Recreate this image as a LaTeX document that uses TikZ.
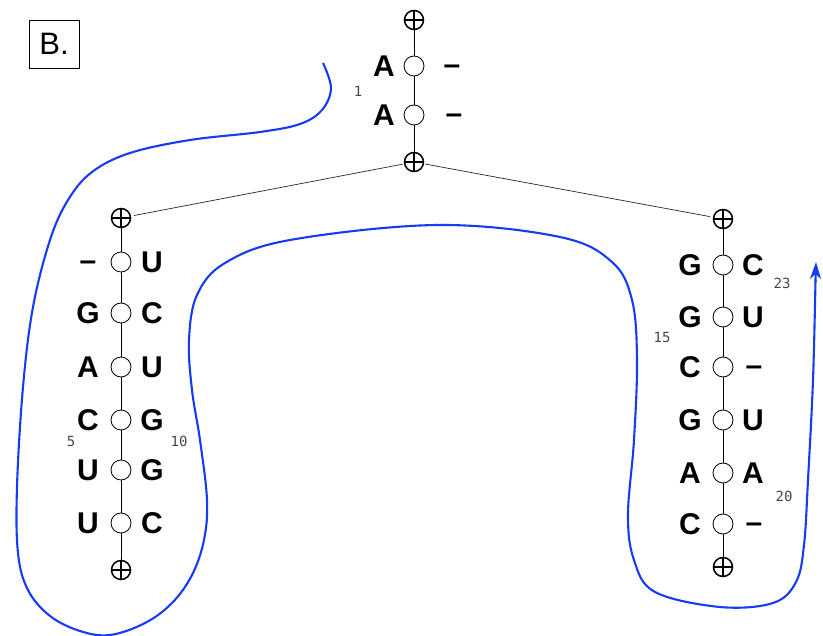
\documentclass[tikz,border=0pt]{standalone}
\usepackage{fontspec}
\setmainfont{Liberation Sans}
\newfontfamily\numfont{DejaVu Sans Mono}
\usetikzlibrary{arrows.meta}
\definecolor{curveblue}{RGB}{20,60,245}
\definecolor{numgray}{RGB}{70,70,70}
\tikzset{
 endpos/.style={circle,draw,line width=1.5pt,minimum size=19pt,inner sep=0pt,fill=white,
   path picture={\draw[line width=1.5pt] (path picture bounding box.north) -- (path picture bounding box.south)
     (path picture bounding box.west) -- (path picture bounding box.east);}},
 pairpos/.style={circle,draw,line width=0.8pt,minimum size=20pt,inner sep=0pt,fill=white},
 base/.style={font=\fontsize{30}{32}\selectfont\bfseries, inner sep=0pt, text height=21.5pt, text depth=0pt},
 gap/.style={base, yshift=2pt},
 idx/.style={font=\numfont\fontsize{14}{15}\selectfont, text=numgray, inner sep=0pt},
 stem/.style={line width=0.8pt},
 link/.style={line width=0.7pt, draw=black!85, shorten <=1pt, shorten >=3pt},
 fold/.style={draw=curveblue,line width=2.1pt}
}
\begin{document}
\begin{tikzpicture}[x=1pt,y=-1pt]
\useasboundingbox (0,0) rectangle (823,636);
% label box
\node[draw, line width=0.8pt, minimum width=50pt, minimum height=48pt, inner sep=0pt,
  font=\fontsize{31}{34}\selectfont] (lbl) at (54,44) {B.};

% top stem
\node[endpos] (t0) at (414,20) {};
\node[pairpos] (t1) at (414,66) {};
\node[pairpos] (t2) at (414,115) {};
\node[endpos] (t3) at (414,162) {};
\draw[stem] (t0) -- (t1) -- (t2) -- (t3);
\node[base] (ta1) at (384,66) {A};
\node[base] (ta2) at (384,115) {A};
\node[gap] (tb1) at (452,66) {--};
\node[gap] (tb2) at (454,115) {--};

% left stem
\node[endpos] (l0) at (121,218) {};
\node[pairpos] (l1) at (121,262) {};
\node[pairpos] (l2) at (121,313) {};
\node[pairpos] (l3) at (121,367) {};
\node[pairpos] (l4) at (121,420) {};
\node[pairpos] (l5) at (121,470) {};
\node[pairpos] (l6) at (121,523) {};
\node[endpos] (l7) at (121,570) {};
\draw[stem] (l0) -- (l1) -- (l2) -- (l3) -- (l4) -- (l5) -- (l6) -- (l7);
\node[gap] (la1) at (88,262) {--};
\node[base] (la2) at (88,313) {G};
\node[base] (la3) at (88,367) {A};
\node[base] (la4) at (88,420) {C};
\node[base] (la5) at (88,470) {U};
\node[base] (la6) at (88,523) {U};
\node[base] (lb1) at (152,262) {U};
\node[base] (lb2) at (152,313) {C};
\node[base] (lb3) at (152,367) {U};
\node[base] (lb4) at (152,420) {G};
\node[base] (lb5) at (152,470) {G};
\node[base] (lb6) at (152,523) {C};

% right stem
\node[endpos] (r0) at (723,219) {};
\node[pairpos] (r1) at (723,265) {};
\node[pairpos] (r2) at (723,317) {};
\node[pairpos] (r3) at (723,367) {};
\node[pairpos] (r4) at (723,420) {};
\node[pairpos] (r5) at (723,473) {};
\node[pairpos] (r6) at (723,524) {};
\node[endpos] (r7) at (723,567) {};
\draw[stem] (r0) -- (r1) -- (r2) -- (r3) -- (r4) -- (r5) -- (r6) -- (r7);
\node[base] (ra1) at (690,265) {G};
\node[base] (ra2) at (690,317) {G};
\node[base] (ra3) at (690,367) {C};
\node[base] (ra4) at (690,420) {G};
\node[base] (ra5) at (690,473) {A};
\node[base] (ra6) at (690,524) {C};
\node[base] (rb1) at (753,265) {C};
\node[base] (rb2) at (753,317) {U};
\node[gap] (rb3) at (754,367) {--};
\node[base] (rb4) at (753,420) {U};
\node[base] (rb5) at (753,473) {A};
\node[gap] (rb6) at (754,524) {--};

% links between stems
\draw[link] (t3) -- (l0);
\draw[link] (t3) -- (r0);

% indices
\node[idx] (n1) at (358,91) {1};
\node[idx] (n5) at (71,441) {5};
\node[idx] (n10) at (179,441) {10};
\node[idx] (n15) at (662,337) {15};
\node[idx] (n20) at (784,496) {20};
\node[idx] (n23) at (782,283) {23};

% fold trace
\draw[fold] plot[smooth, tension=0.6] coordinates {
(323,63) (331,88) (322,110) (300,124) (260,132) (190,140) (130,153) (92,172)
(68,200) (50,240) (33,307) (23,387) (17,487) (18,553) (28,590) (50,616) (80,631) (110,635)
(145,623) (172,603) (192,575) (204,540) (207,500) (200,440) (192,390)
(189,340) (197,295) (225,263) (290,240) (437,225) (560,237) (612,262) (632,300)
(637,360) (634,440) (628,515) (634,560) (655,592) (720,607) (773,603) (796,582)
(804,545) (808,480) (813,380) (815.5,280)};
\coordinate (foldend) at (815.5,280);
\coordinate (foldtip) at (816,262);
\draw[fold, -{Stealth[length=17pt,width=11pt,inset=5pt]}, shorten <=-1pt] (foldend) -- (foldtip);
\end{tikzpicture}
\end{document}
